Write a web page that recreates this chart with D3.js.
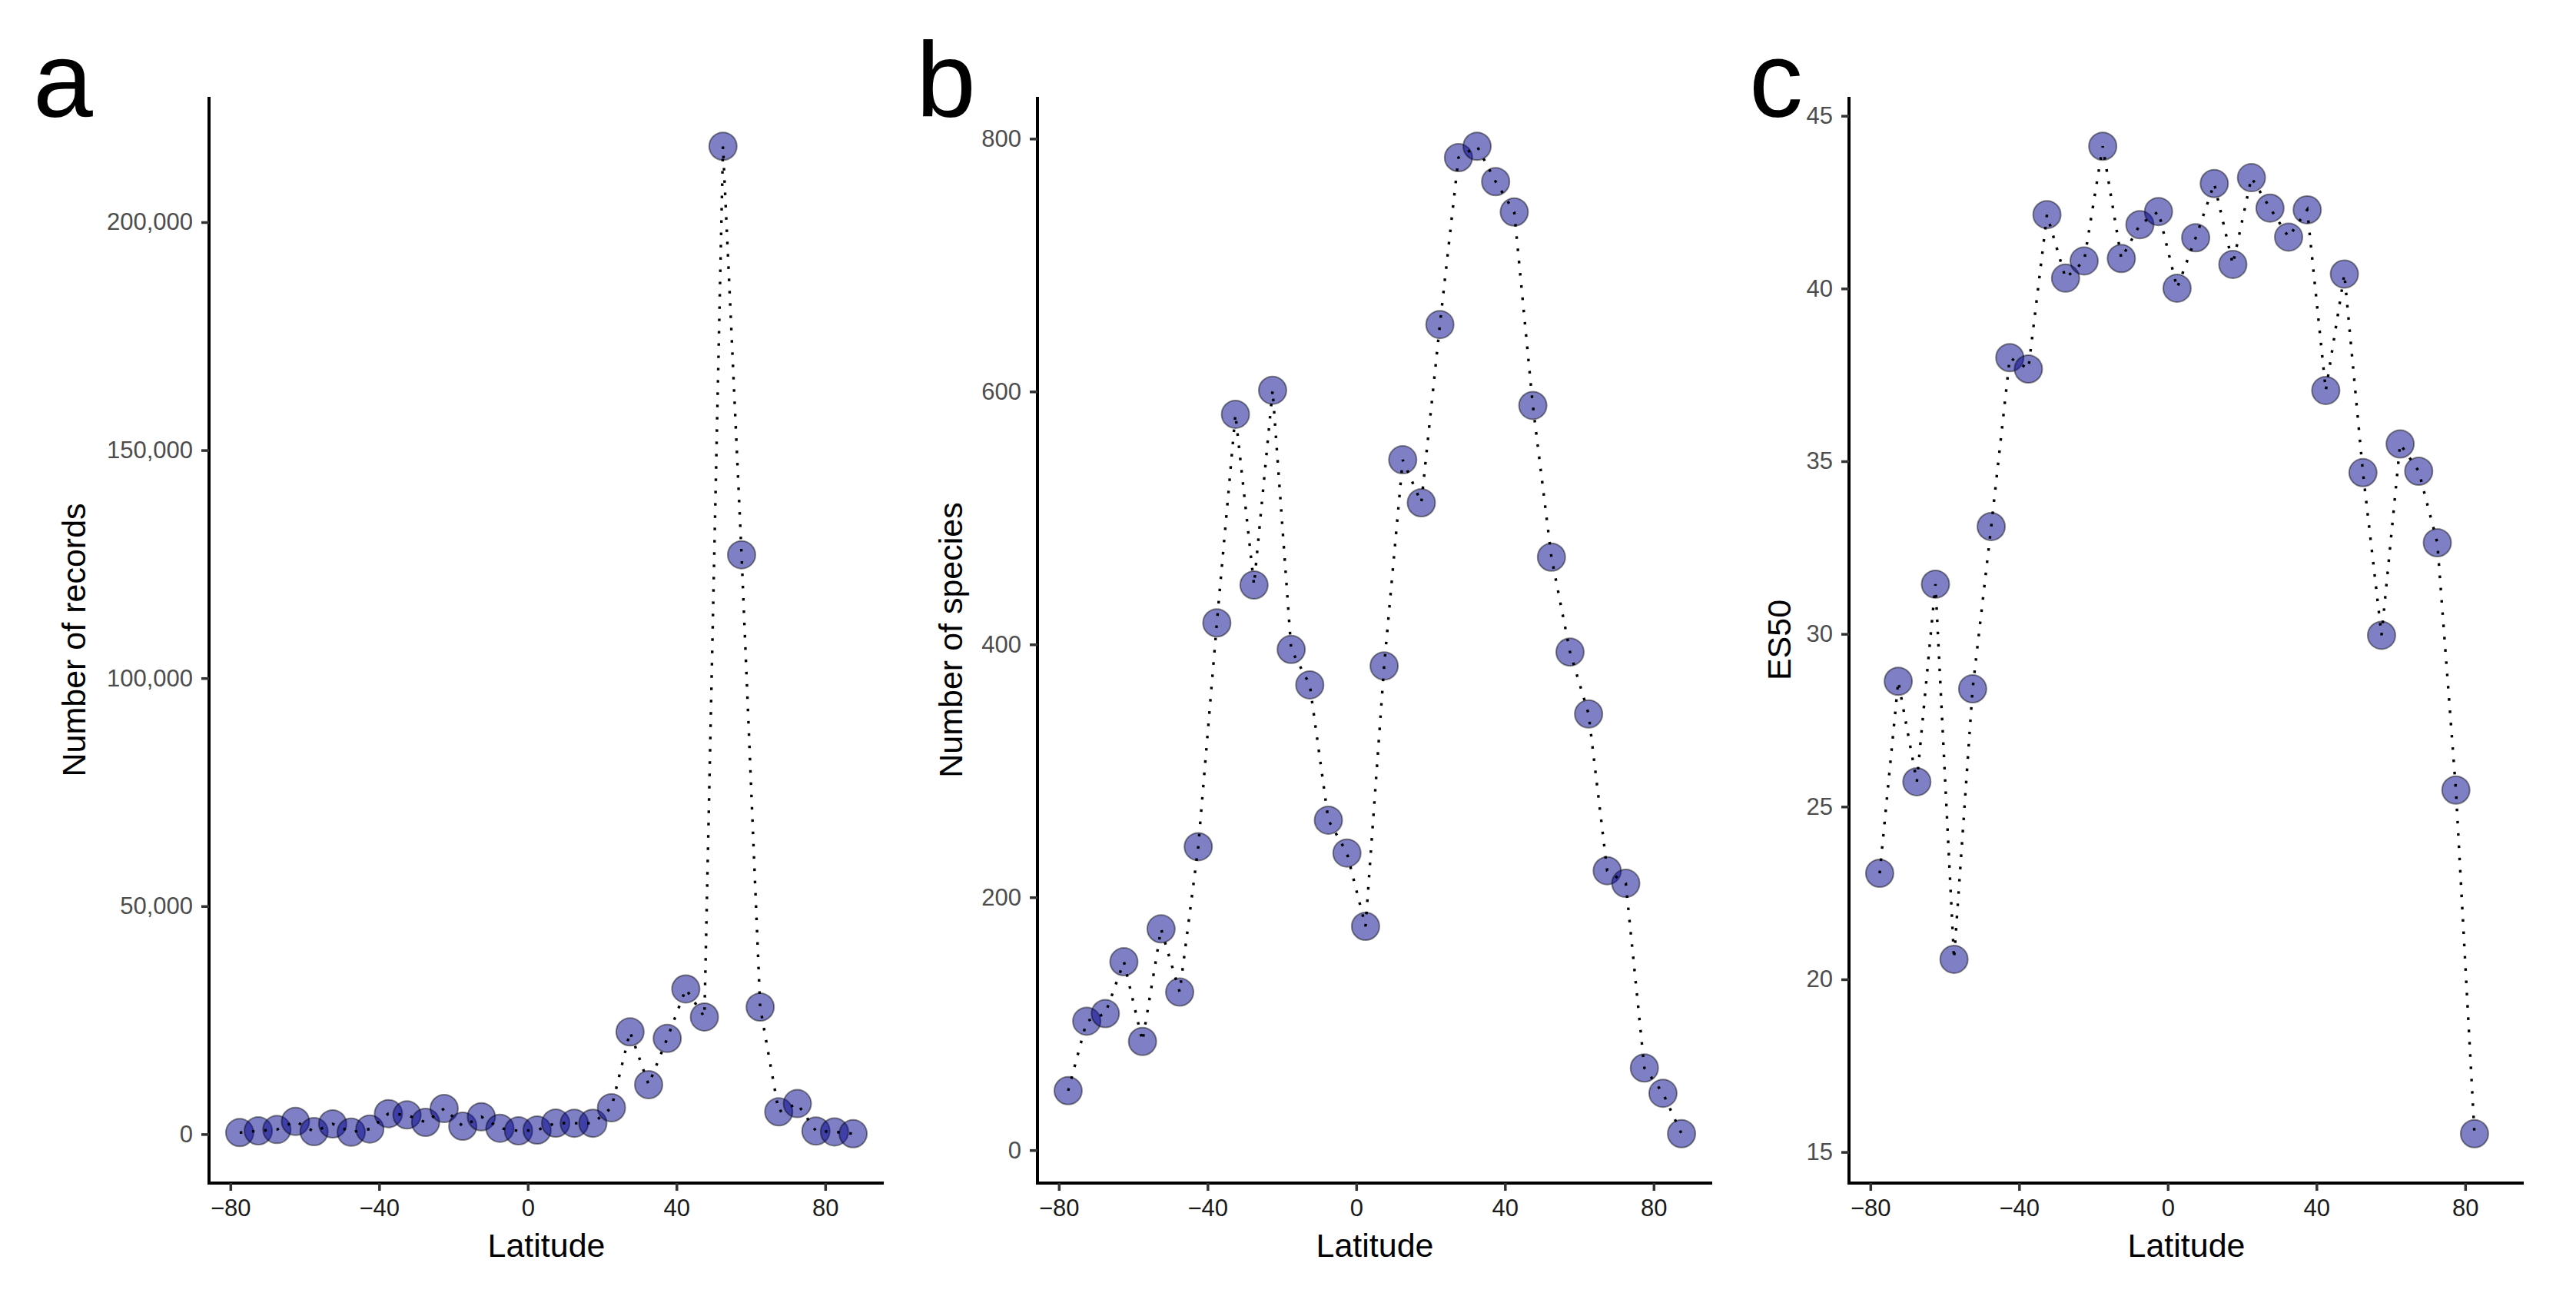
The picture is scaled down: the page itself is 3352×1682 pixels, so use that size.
<!DOCTYPE html>
<html lang="en">
<head>
    <meta charset="UTF-8">
    <title>Records, species and ES50 by latitude</title>
    <style>
        body { margin: 0; background: #fff; }
        text { font-family: "Liberation Sans", Arial, sans-serif; }
    </style>
</head>
<body>
    <svg id="chart" width="3352" height="1682"></svg>

    <script src="https://d3js.org/d3.v7.min.js"></script>
    <script>
        // Latitude bins (5 degree band centres)
        const latitude = [-77.5, -72.5, -67.5, -62.5, -57.5, -52.5, -47.5, -42.5, -37.5, -32.5,
                          -27.5, -22.5, -17.5, -12.5, -7.5, -2.5, 2.5, 7.5, 12.5, 17.5,
                          22.5, 27.5, 32.5, 37.5, 42.5, 47.5, 52.5, 57.5, 62.5, 67.5,
                          72.5, 77.5, 82.5, 87.5];

        // a - number of records per band
        const records = [340, 730, 1010, 2810, 560, 2250, 450, 1130, 4500, 4220,
                         2590, 5630, 1745, 3820, 1295, 730, 900, 2420, 2400, 2400,
                         5800, 22440, 10860, 21000, 31850, 25700, 216650, 127060, 27870, 4900,
                         6700, 700, 500, 100];

        // b - number of species per band
        const species = [47, 102, 108, 149, 86, 175, 125, 240, 417, 582,
                         447, 601, 396, 368, 261, 235, 177, 383, 546, 512,
                         653, 785, 794, 766, 742, 589, 469, 394, 345, 221,
                         211, 65, 45, 13];

        // c - ES50 per band (no value for the last band)
        const es50 = [23.07, 28.63, 25.72, 31.44, 20.58, 28.41, 33.11, 38.0, 37.67, 42.14,
                      40.3, 40.8, 44.12, 40.87, 41.85, 42.23, 40.01, 41.47, 43.04, 40.7,
                      43.21, 42.33, 41.49, 42.28, 37.05, 40.42, 34.67, 29.96, 35.5, 34.71,
                      32.64, 25.48, 15.53];

        // tick labels
        const xTicks = [-80, -40, 0, 40, 80];
        const recordTicks = [0, 50000, 100000, 150000, 200000];
        const speciesTicks = [0, 200, 400, 600, 800];
        const es50Ticks = [15, 20, 25, 30, 35, 40, 45];

        const panelLetters = ["a", "b", "c"];
        const yTitles = ["Number of records", "Number of species", "ES50"];
        const xTitle = "Latitude";

        // panel placement (pixels)
        const plotTop = 126, plotBottom = 1539;
        const lefts = [272, 1350, 2406];
        const plotWidth = 878;
        const yTitleX = [111, 1252, 2330];
        const letterX = [43, 1192, 2276];

        const panels = [
            { values: records, ticks: recordTicks, fmt: d3.format(",") },
            { values: species, ticks: speciesTicks, fmt: d3.format("d") },
            { values: es50, ticks: es50Ticks, fmt: d3.format("d") }
        ];

        // ggplot-like 5% expansion
        function expand(ext) {
            const pad = (ext[1] - ext[0]) * 0.05;
            return [ext[0] - pad, ext[1] + pad];
        }

        const svg = d3.select("#chart");
        const xDomain = expand(d3.extent(latitude));

        panels.forEach((p, i) => {
            const left = lefts[i];
            const g = svg.append("g");

            const x = d3.scaleLinear().domain(xDomain).range([left, left + plotWidth]);
            const y = d3.scaleLinear().domain(expand(d3.extent(p.values))).range([plotBottom, plotTop]);

            const pts = p.values.map((v, j) => ({ lat: latitude[j], v: v }));

            // points
            g.selectAll("circle")
                .data(pts)
                .enter()
                .append("circle")
                .attr("cx", d => x(d.lat))
                .attr("cy", d => y(d.v))
                .attr("r", 18)
                .attr("fill", "#00008B")
                .attr("fill-opacity", 0.5)
                .attr("stroke", "#000")
                .attr("stroke-opacity", 0.45)
                .attr("stroke-width", 2);

            // dotted line over the points
            const line = d3.line().x(d => x(d.lat)).y(d => y(d.v));
            g.append("path")
                .datum(pts)
                .attr("d", line)
                .attr("fill", "none")
                .attr("stroke", "#000")
                .attr("stroke-width", 3.4)
                .attr("stroke-dasharray", "3.4 12.6");

            // axes
            const xAxis = g.append("g")
                .attr("transform", `translate(0,${plotBottom})`)
                .call(d3.axisBottom(x).tickValues(xTicks).tickSize(10).tickPadding(11)
                    .tickFormat(d3.format("d")).tickSizeOuter(0));
            const yAxis = g.append("g")
                .attr("transform", `translate(${left},0)`)
                .call(d3.axisLeft(y).tickValues(p.ticks).tickSize(10).tickPadding(11)
                    .tickFormat(p.fmt).tickSizeOuter(0));

            [xAxis, yAxis].forEach(ax => {
                ax.select(".domain").attr("stroke", "#000").attr("stroke-width", 4);
                ax.selectAll(".tick line").attr("stroke", "#333").attr("stroke-width", 3.5);
                ax.selectAll(".tick text")
                    .attr("font-size", 31)
                    .attr("font-family", "Liberation Sans, Arial, sans-serif");
            });
            xAxis.selectAll(".tick text").attr("fill", "#1a1a1a");
            yAxis.selectAll(".tick text").attr("fill", "#4d4d4d");

            // extend the axis lines so they meet at the corner
            xAxis.select(".domain").attr("d", `M${left - 2},0H${left + plotWidth}`);
            yAxis.select(".domain").attr("d", `M0,${plotTop}V${plotBottom + 2}`);

            // axis titles
            g.append("text")
                .attr("x", left + plotWidth / 2)
                .attr("y", 1635)
                .attr("text-anchor", "middle")
                .attr("font-size", 43)
                .attr("fill", "#000")
                .text(xTitle);

            g.append("text")
                .attr("transform", `translate(${yTitleX[i]},${(plotTop + plotBottom) / 2}) rotate(-90)`)
                .attr("text-anchor", "middle")
                .attr("font-size", 43)
                .attr("fill", "#000")
                .text(yTitles[i]);

            // panel letter
            g.append("text")
                .attr("x", letterX[i])
                .attr("y", 152)
                .attr("font-size", 140)
                .attr("fill", "#000")
                .text(panelLetters[i]);
        });
    </script>
</body>
</html>
